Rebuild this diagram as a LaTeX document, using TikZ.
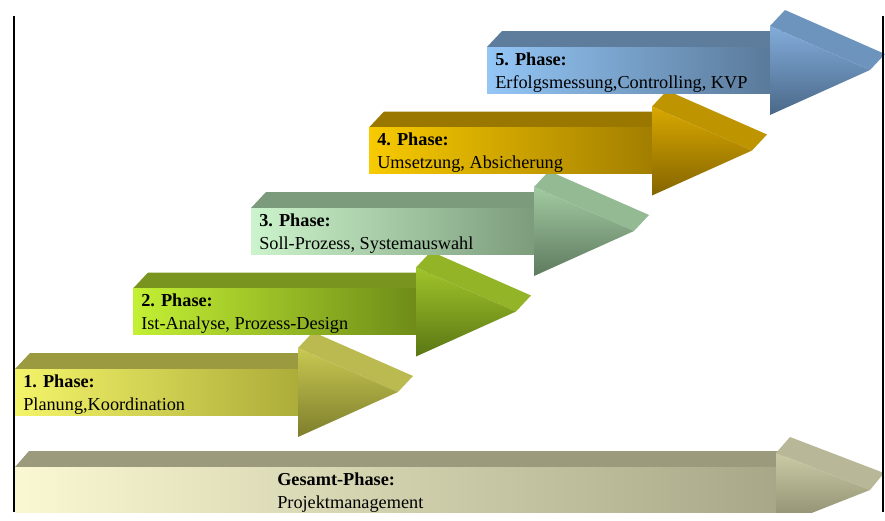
\documentclass[tikz,border=0pt]{standalone}
\usepackage{fontspec}
\setmainfont{Liberation Serif}
\usepackage{xcolor}

% colours of each arrow: A/B front of shaft (left/right), C/D front of head (top/bottom),
% top = upper face of shaft, head = upper face of head
\definecolor{Ayel}{HTML}{F4F46A}  \definecolor{Byel}{HTML}{ACAC3A}
\definecolor{Cyel}{HTML}{C8C852}  \definecolor{Dyel}{HTML}{7E7E2C}
\definecolor{topyel}{HTML}{9C9A40} \definecolor{headyel}{HTML}{BABA50}

\definecolor{Agrn}{HTML}{C4F034}  \definecolor{Bgrn}{HTML}{6E8C18}
\definecolor{Cgrn}{HTML}{A0C42A}  \definecolor{Dgrn}{HTML}{5A7614}
\definecolor{topgrn}{HTML}{7A9420} \definecolor{headgrn}{HTML}{92B426}

\definecolor{Amint}{HTML}{CCF4CC} \definecolor{Bmint}{HTML}{7C9C7C}
\definecolor{Cmint}{HTML}{A2CAA2} \definecolor{Dmint}{HTML}{5E7A5E}
\definecolor{topmint}{HTML}{7C9A7C} \definecolor{headmint}{HTML}{94BA94}

\definecolor{Agold}{HTML}{F8CA00} \definecolor{Bgold}{HTML}{A27E00}
\definecolor{Cgold}{HTML}{D8A800} \definecolor{Dgold}{HTML}{846400}
\definecolor{topgold}{HTML}{9A7800} \definecolor{headgold}{HTML}{BE9400}

\definecolor{Ablu}{HTML}{94C6F6}  \definecolor{Bblu}{HTML}{5A7A9A}
\definecolor{Cblu}{HTML}{82ACDA}  \definecolor{Dblu}{HTML}{4A6888}
\definecolor{topblu}{HTML}{5E7C9C} \definecolor{headblu}{HTML}{6C94BC}

\definecolor{Acream}{HTML}{FAF8D2} \definecolor{Bcream}{HTML}{A8A888}
\definecolor{Ccream}{HTML}{CACAA6} \definecolor{Dcream}{HTML}{8A8A6C}
\definecolor{topcream}{HTML}{9C9A7C} \definecolor{headcream}{HTML}{B8B898}

\begin{document}
\begin{tikzpicture}[x=0.75pt, y=-0.75pt,
    phasetext/.style={anchor=north west, inner sep=0pt, align=left,
        font=\fontsize{13.7}{17.25}\selectfont}]
    \useasboundingbox (0,0) rectangle (885,521);

    % Gesamt-Phase: long arrow along the bottom
    \begin{scope}
        \clip (0,0) rectangle (885,512);
        \fill[topcream] (15,467) -- (776,467) -- (790,451) -- (29,451) -- cycle;
        \shade[left color=Acream, right color=Bcream] (15,467) rectangle (776,512);
        \fill[headcream] (776,453) -- (870,490) -- (884,473) -- (790,437) -- cycle;
        \shade[top color=Ccream, bottom color=Dcream] (776,453) -- (870,490) -- (776,527) -- cycle;
    \end{scope}
    \node[phasetext] (gesamt) at (277,472.5) {\textbf{Gesamt-Phase:}\\Projektmanagement};

    % Phases 1 to 5, each one step up and to the right
    \foreach \i/\c/\what in {0/yel/{Planung,Koordination},
                             1/grn/{Ist-Analyse, Prozess-Design},
                             2/mint/{Soll-Prozess, Systemauswahl},
                             3/gold/{Umsetzung, Absicherung},
                             4/blu/{Erfolgsmessung,Controlling, KVP}} {
        \pgfmathtruncatemacro\n{\i+1}
        \begin{scope}[shift={({118*\i},{-80.5*\i})}]
            % shaft: upper face, then front
            \fill[fill=top\c] (15,369) -- (298,369) -- (313,353) -- (30,353) -- cycle;
            \shade[left color=A\c, right color=B\c] (15,369) rectangle (298,415);
            % head: sloped upper face, then front
            \fill[fill=head\c] (298,348) -- (398,392) -- (413,376) -- (313,332) -- cycle;
            \shade[top color=C\c, bottom color=D\c] (298,348) -- (398,392) -- (298,437) -- cycle;
            \node[phasetext] (phase\n) at (23,374.5) {\textbf{\n. Phase:}\\\what};
        \end{scope}
    }

    % frame lines left and right
    \draw[line width=1.5pt] (14,16) -- (14,512);
    \draw[line width=1.5pt] (883,16) -- (883,512);
\end{tikzpicture}
\end{document}
